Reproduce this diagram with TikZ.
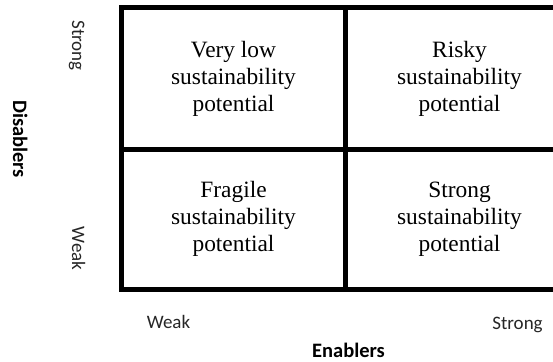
\documentclass[tikz,border=0pt]{standalone}
\usepackage{fontspec}
\setmainfont{Liberation Serif}
\newfontfamily\labelfont{Carlito}
\begin{document}
\begin{tikzpicture}[x=1pt,y=-1pt,
  gridline/.style={line width=5pt,black},
  quadtext/.style={align=center,inner sep=0pt,
    font=\fontsize{23.4}{27}\selectfont},
  axislevel/.style={inner sep=0pt,anchor=base,text=black!85,
    font=\labelfont\fontsize{19}{22}\selectfont},
  axistitle/.style={inner sep=0pt,anchor=base,
    font=\labelfont\bfseries\fontsize{20.5}{24}\selectfont}]
  \useasboundingbox (0,0) rectangle (553,361);
  \fill[white] (0,0) rectangle (553,361);

  % Matrix grid (the right border runs past the page edge)
  \begin{scope}
    \clip (0,0) rectangle (553,361);
    \coordinate (tl) at (121.5,7.5);
    \coordinate (br) at (574,289);
    \coordinate (midtop) at (345,7.5);
    \coordinate (midbot) at (345,289);
    \coordinate (midleft) at (121.5,149.5);
    \coordinate (midright) at (574,149.5);
    \draw[gridline] (tl) rectangle (br);
    \draw[gridline] (midtop) -- (midbot);
    \draw[gridline] (midleft) -- (midright);
  \end{scope}

  % Quadrant labels
  \node[quadtext] (q11) at (233.5,78.5) {Very low\\sustainability\\potential};
  \node[quadtext] (q12) at (459.5,78.5) {Risky\\sustainability\\potential};
  \node[quadtext] (q21) at (233.5,219) {Fragile\\sustainability\\potential};
  \node[quadtext] (q22) at (459.5,219) {Strong\\sustainability\\potential};

  % Vertical axis
  \node[axislevel,rotate=-90] (ystrong) at (72,45.5) {Strong};
  \node[axislevel,rotate=-90] (yweak) at (72,248.5) {Weak};
  \node[axistitle,rotate=-90] (ytitle) at (13,139) {Disablers};

  % Horizontal axis
  \node[axislevel] (xweak) at (168.5,328) {Weak};
  \node[axislevel] (xstrong) at (517.5,329.5) {Strong};
  \node[axistitle] (xtitle) at (348.5,357) {Enablers};
\end{tikzpicture}
\end{document}
